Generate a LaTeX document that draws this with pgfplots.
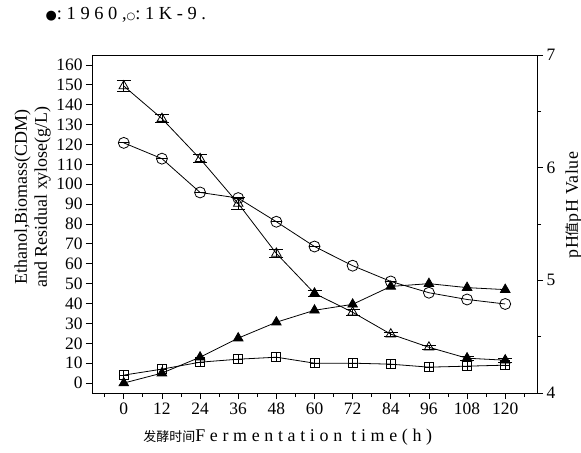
\documentclass[border=0pt]{standalone}
\usepackage{pgfplots}
\pgfplotsset{compat=1.18}
\usepackage{pgfplotstable}
\usepackage{fontspec}
\setmainfont{Liberation Serif}
\newfontfamily\cjk{Noto Sans CJK SC}
\newfontfamily\sym{DejaVu Sans}
\newfontfamily\spaced[LetterSpace=3]{Liberation Serif}
\newfontfamily\wide[LetterSpace=26]{Liberation Serif}
\newfontfamily\headfont[LetterSpace=25]{Liberation Serif}
\usetikzlibrary{calc}

% time (h), residual xylose, error, ethanol, biomass (g/L), pH
\pgfplotstableread{
t   xyl    err  eth   cdm   ph
0   149.4  2.8  0.0   4.0   6.22
12  133.0  2.0  5.0   7.0   6.08
24  112.8  2.0  13.0  10.5  5.78
36  90.3   3.0  22.6  12.0  5.73
48  65.2   2.0  30.6  13.0  5.52
60  45.1   1.5  36.6  10.0  5.30
72  35.6   1.5  39.6  10.0  5.13
84  24.6   1.0  48.6  9.5   4.99
96  18.0   1.0  50.0  8.0   4.89
108 12.5   1.0  48.0  8.5   4.83
120 11.5   1.0  47.0  9.0   4.79
}\fermdata

\begin{document}
\begin{tikzpicture}
\pgfplotsset{
  every axis/.append style={
    scale only axis, width=445bp, height=338bp,
    xmin=-10, xmax=130,
    axis line style={line width=0.9pt},
    every tick/.style={black, line width=0.8pt},
    major tick length=6bp, minor tick length=4bp,
    /pgf/number format/assume math mode=true,
    tick label style={font=\fontsize{17.5}{18}\selectfont},
    clip=false,
  },
}
\begin{axis}[name=main,
  ymin=-5, ymax=165,
  axis x line*=bottom, axis y line*=left,
  tick align=outside,
  xtick={0,12,...,120}, minor xtick={-6,6,...,126},
  ytick={0,10,...,160},
  xlabel={\mbox{}{\cjk\fontsize{13}{14}\selectfont 发酵时间}{\wide Fermentation time(h)}},
  xlabel style={font=\fontsize{18}{19}\selectfont, at={(axis description cs:0.44,-0.13)}, anchor=center},
  ylabel={Ethanol,Biomass(CDM)\\and Residual xylose(g/L)},
  ylabel style={font=\fontsize{18}{20}\selectfont, align=center,
    at={(axis description cs:-0.085,0.58)}, anchor=south},
]
% residual xylose with error bars
\addplot[black, line width=0.8pt, mark=triangle, mark size=5.5bp, mark options={fill=white, solid},
  error bars/.cd, y dir=both, y explicit,
  error bar style={black, line width=0.8pt},
  error mark options={black, rotate=90, mark size=7bp, line width=0.8pt}]
  table[x=t, y=xyl, y error=err] {\fermdata};
\addplot[black, only marks, mark=triangle*, mark size=5.5bp, mark options={fill=black}]
  coordinates {(60,45.1) (108,12.5) (120,11.5)};
% ethanol
\addplot[black, line width=0.8pt, mark=triangle*, mark size=5.5bp, mark options={fill=black, solid}]
  table[x=t, y=eth] {\fermdata};
% biomass
\addplot[black, line width=0.8pt, mark=square, mark size=4.5bp, mark options={fill=white, solid}]
  table[x=t, y=cdm] {\fermdata};
\addplot[black, line width=0.8pt, only marks, mark=+, mark size=4.5bp]
  table[x=t, y=cdm] {\fermdata};
\node[anchor=west, font=\fontsize{18.5}{19}\selectfont\headfont]
  at (axis description cs:-0.112,1.118)
  {{\sym\fontsize{13}{13}\selectfont ●}:1960,{\sym\fontsize{10}{10}\selectfont ○}:1K-9.};
\end{axis}

\begin{axis}[name=phax,
  ymin=4, ymax=7,
  axis x line*=top, axis y line*=right,
  xtick=\empty, minor xtick={-6,0,...,126},
  ytick={4,5,6,7}, minor ytick={4.5,5.5,6.5},
  ytick align=outside,
  xtick align=inside,
  ylabel={pH{\cjk\fontsize{14}{15}\selectfont 值}pH Value},
  ylabel style={font=\fontsize{18}{19}\selectfont\spaced,
    at={(axis description cs:1.082,0.556)}, anchor=center},
]
\addplot[black, line width=0.8pt, mark=o, mark size=5.5bp, mark options={fill=white, solid}]
  table[x=t, y=ph] {\fermdata};
\addplot[black, line width=0.8pt, only marks, mark=-, mark size=5.5bp]
  coordinates {(0,6.22) (12,6.08) (24,5.78) (36,5.73) (48,5.52) (60,5.30) (84,4.99)};
\end{axis}

\pgfresetboundingbox
\path[use as bounding box] ($(main.south west)+(-92bp,-60bp)$) rectangle ($(main.north east)+(44bp,55bp)$);
\end{tikzpicture}
\end{document}
